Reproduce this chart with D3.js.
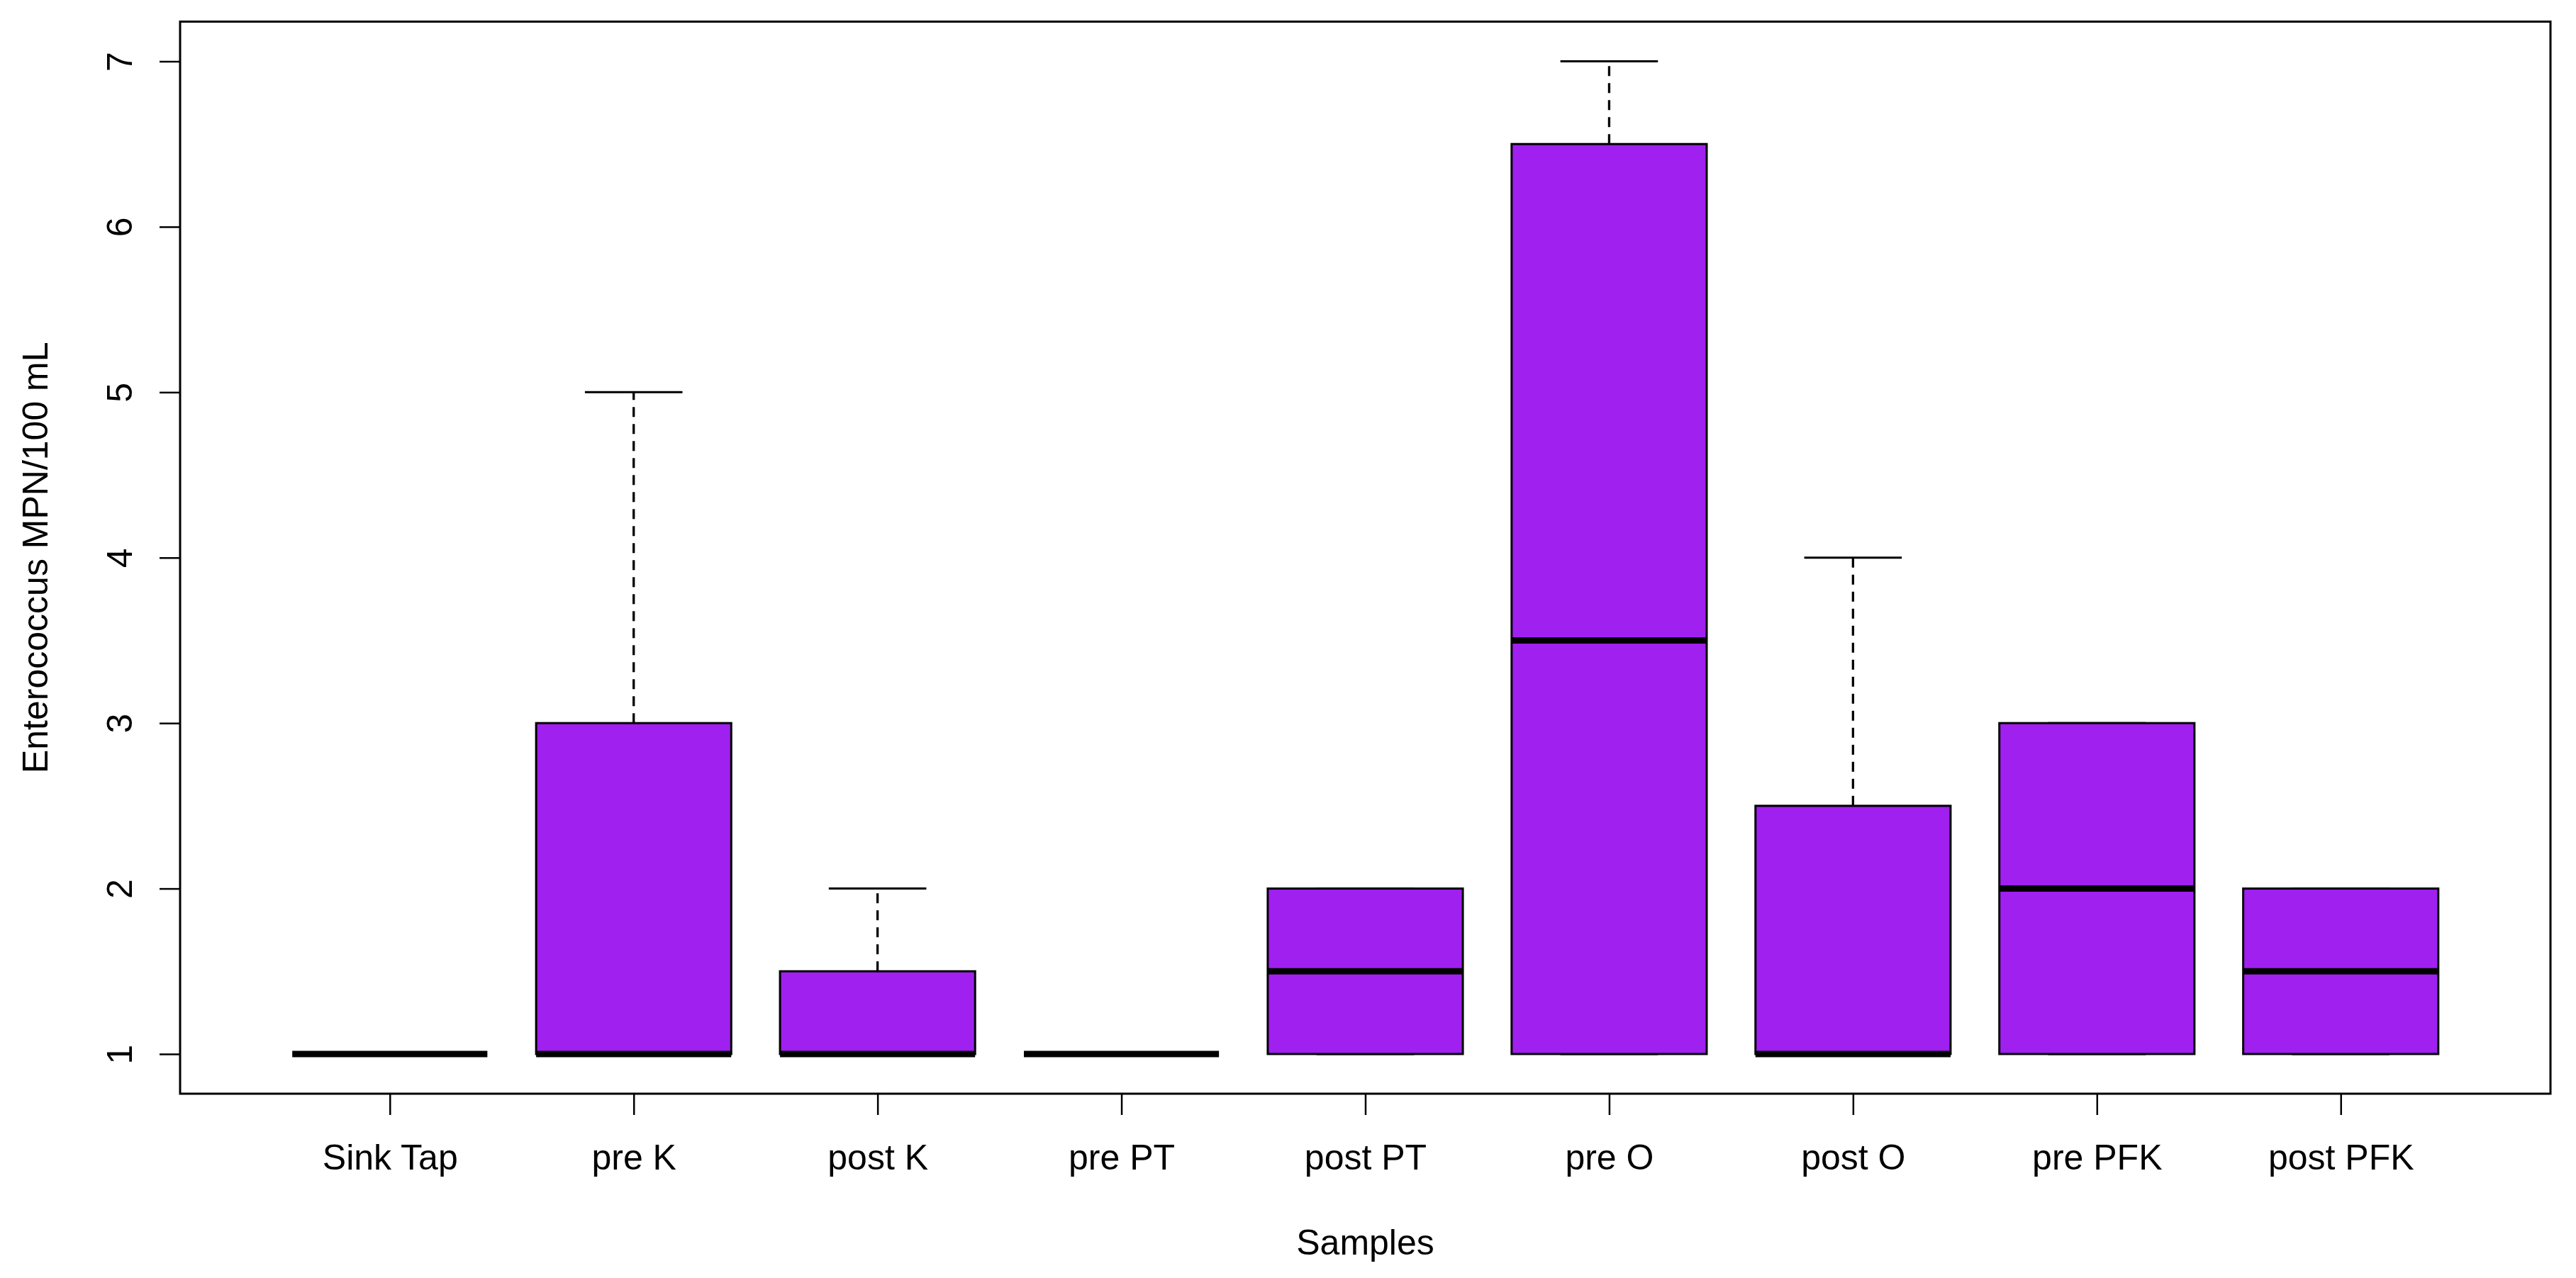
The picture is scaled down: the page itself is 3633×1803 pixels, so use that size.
<!DOCTYPE html>
<html>
<head>
<meta charset="utf-8">
<script src="https://cdn.jsdelivr.net/npm/d3@7"></script>
<style>
  html, body { margin: 0; padding: 0; background: #ffffff; }
  svg { display: block; }
  text { font-family: "Liberation Sans", Arial, sans-serif; fill: #000; }
</style>
</head>
<body>
<svg id="chart" width="3633" height="1803"></svg>
<script>
// ---- data ----
const categories = ["Sink Tap", "pre K", "post K", "pre PT", "post PT", "pre O", "post O", "pre PFK", "post PFK"];
const lowerWhisker = [1, 1, 1, 1, 1, 1, 1, 1, 1];
const lowerQuartile = [1, 1, 1, 1, 1, 1, 1, 1, 1];
const medians = [1, 1, 1, 1, 1.5, 3.5, 1, 2, 1.5];
const upperQuartile = [1, 3, 1.5, 1, 2, 6.5, 2.5, 3, 2];
const upperWhisker = [1, 5, 2, 1, 2, 7, 4, 3, 2];
const yTicks = [1, 2, 3, 4, 5, 6, 7];
const xTitle = "Samples";
const yTitle = "Enterococcus MPN/100 mL";

const boxes = categories.map((c, i) => ({
  name: c, lo: lowerWhisker[i], q1: lowerQuartile[i], med: medians[i],
  q3: upperQuartile[i], hi: upperWhisker[i]
}));

// ---- layout ----
const L = 254, R = 3597, T = 30.5, B = 1543;
const fill = "#A020F0";

const svg = d3.select("#chart");

const x = d3.scalePoint().domain(categories).range([L, R]).padding(0.86);
const y = d3.scaleLinear().domain([0.76, 7.24]).range([B, T]);
const bw = x.step() * 0.8;
const sw = bw * 0.5;

const g = svg.append("g");

// whiskers (dashed) and staples
boxes.forEach(d => {
  const cx = x(d.name);
  if (d.hi > d.q3) {
    g.append("line").attr("x1", cx).attr("x2", cx)
      .attr("y1", y(d.q3)).attr("y2", y(d.hi))
      .attr("stroke", "#000").attr("stroke-width", 3.3).attr("stroke-dasharray", "14,10");
  }
  if (d.lo < d.q1) {
    g.append("line").attr("x1", cx).attr("x2", cx)
      .attr("y1", y(d.q1)).attr("y2", y(d.lo))
      .attr("stroke", "#000").attr("stroke-width", 3.3).attr("stroke-dasharray", "14,10");
  }
  [d.hi, d.lo].forEach(v => {
    g.append("line").attr("x1", cx - sw / 2).attr("x2", cx + sw / 2)
      .attr("y1", y(v)).attr("y2", y(v))
      .attr("stroke", "#000").attr("stroke-width", 3);
  });
});

// boxes
g.selectAll("rect.box").data(boxes).enter().append("rect")
  .attr("class", "box")
  .attr("x", d => x(d.name) - bw / 2)
  .attr("width", bw)
  .attr("y", d => y(d.q3))
  .attr("height", d => y(d.q1) - y(d.q3))
  .attr("fill", fill)
  .attr("stroke", "#000")
  .attr("stroke-width", 3);

// medians
g.selectAll("line.med").data(boxes).enter().append("line")
  .attr("class", "med")
  .attr("x1", d => x(d.name) - bw / 2)
  .attr("x2", d => x(d.name) + bw / 2)
  .attr("y1", d => y(d.med))
  .attr("y2", d => y(d.med))
  .attr("stroke", "#000")
  .attr("stroke-width", 9);

// frame
svg.append("rect").attr("x", L).attr("y", T).attr("width", R - L).attr("height", B - T)
  .attr("fill", "none").attr("stroke", "#000").attr("stroke-width", 3);

// y axis
const yAxis = svg.append("g").attr("transform", `translate(${L},0)`)
  .call(d3.axisLeft(y).tickValues(yTicks).tickSize(29).tickFormat(d3.format("d")));
yAxis.select(".domain").remove();
yAxis.selectAll(".tick line").attr("stroke", "#000").attr("stroke-width", 2.5);
yAxis.selectAll(".tick text")
  .attr("x", null).attr("dy", null)
  .attr("text-anchor", "middle")
  .attr("transform", "translate(-68,0) rotate(-90)")
  .style("font-size", "50px")
  .style("font-family", "'Liberation Sans', Arial, sans-serif")
  .attr("fill", "#000");

// x axis
const xAxis = svg.append("g").attr("transform", `translate(0,${B})`)
  .call(d3.axisBottom(x).tickSize(30));
xAxis.select(".domain").remove();
xAxis.selectAll(".tick line").attr("stroke", "#000").attr("stroke-width", 2.5);
xAxis.selectAll(".tick text")
  .attr("y", 107).attr("dy", null)
  .attr("text-anchor", "middle")
  .style("font-size", "50px")
  .style("font-family", "'Liberation Sans', Arial, sans-serif")
  .attr("fill", "#000");

// axis titles
svg.append("text")
  .attr("x", (L + R) / 2).attr("y", 1770)
  .attr("text-anchor", "middle")
  .style("font-size", "50px")
  .text(xTitle);

svg.append("text")
  .attr("transform", `translate(67,${(T + B) / 2}) rotate(-90)`)
  .attr("text-anchor", "middle")
  .style("font-size", "50px")
  .text(yTitle);
</script>
</body>
</html>
